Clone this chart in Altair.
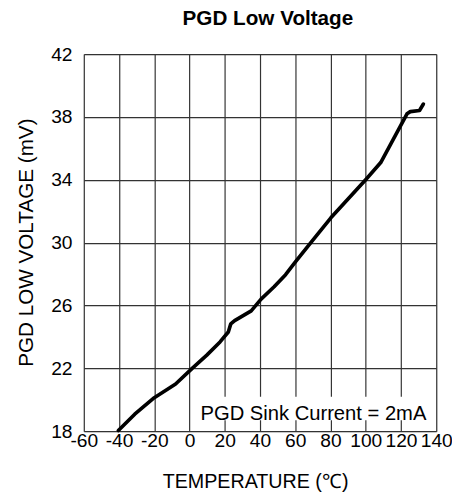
import altair as alt
import pandas as pd

# Curve (temperature in °C, voltage in mV)
temp = [-40.4, -31.1, -20.0, -7.9, 1.5, 9.8, 17.3, 22.0, 23.4, 25.6, 35.0, 40.6,
        48.0, 54.5, 60.3, 69.4, 80.2, 100.2, 108.5, 116.9, 123.4, 125.3, 130.5, 132.7]
volt = [18.04, 19.08, 20.13, 21.0, 22.0, 22.84, 23.68, 24.31, 24.83, 25.04, 25.66, 26.4,
        27.19, 27.96, 28.8, 30.08, 31.58, 34.04, 35.1, 36.84, 38.2, 38.34, 38.41, 38.82]

x_ticks = [-60, -40, -20, 0, 20, 40, 60, 80, 100, 120, 140]
y_ticks = [18, 22, 26, 30, 34, 38, 42]

note_text = ["PGD Sink Current = 2mA"]
note_x = [134.4]
note_y = [18.73]
box_x = [3.0]
box_x2 = [139.0]
box_y = [18.69]
box_y2 = [20.19]

FONT = "Liberation Sans"

df = pd.DataFrame({"T": temp, "V": volt})
note_df = pd.DataFrame({"label": note_text, "x": note_x, "y": note_y,
                        "bx": box_x, "bx2": box_x2, "by": box_y, "by2": box_y2})

xs = alt.Scale(domain=[-60, 140], nice=False, zero=False)
ys = alt.Scale(domain=[18, 42], nice=False, zero=False)

xaxis = alt.Axis(values=x_ticks, title="TEMPERATURE (℃)", grid=True, ticks=False, tickSize=0,
                 domain=False, labelPadding=1, labelFontSize=19.5, labelColor="#000",
                 labelFont=FONT, labelOverlap=False, labelFlush=False,
                 labelExpr="'' + datum.value",
                 titleFont=FONT, titleFontSize=20, titleFontWeight="normal", titleColor="#000",
                 titleY=57, titleX=174, titleBaseline="alphabetic", titleAlign="center",
                 gridColor="#333", gridWidth=1.2)
yaxis = alt.Axis(values=y_ticks, title="PGD LOW VOLTAGE (mV)", grid=True, ticks=False, tickSize=0,
                 domain=False, labelPadding=12, labelFontSize=19.5, labelColor="#000",
                 labelFont=FONT, labelOverlap=False, labelFlush=False,
                 titleFont=FONT, titleFontSize=21, titleFontWeight="normal", titleColor="#000",
                 titleAngle=-90, titleX=-52, titleY=191, titleBaseline="alphabetic",
                 titleAlign="center", gridColor="#333", gridWidth=1.2)

box = alt.Chart(note_df).mark_rect(fill="white").encode(
    x=alt.X("bx:Q", scale=xs, axis=xaxis),
    x2="bx2:Q",
    y=alt.Y("by:Q", scale=ys, axis=yaxis),
    y2="by2:Q",
)

line = alt.Chart(df).mark_line(color="black", strokeWidth=3.7, strokeJoin="round",
                               strokeCap="round").encode(
    x=alt.X("T:Q", scale=xs, axis=xaxis),
    y=alt.Y("V:Q", scale=ys, axis=yaxis),
)

note = alt.Chart(note_df).mark_text(align="right", baseline="alphabetic", font=FONT,
                                    fontSize=20.5, color="#000").encode(
    x=alt.X("x:Q", scale=xs, axis=xaxis),
    y=alt.Y("y:Q", scale=ys, axis=yaxis),
    text="label:N",
)

chart = alt.layer(box, line, note).properties(
    width=358,
    height=383,
    autosize=alt.AutoSizeParams(type="none"),
    padding={"left": 77, "top": 43, "right": 16, "bottom": 60},
    title=alt.TitleParams("PGD Low Voltage", font=FONT, fontSize=21, fontWeight="bold",
                          color="#000", anchor="middle", baseline="alphabetic",
                          frame="group", offset=2, dx=8, dy=3),
).configure_view(stroke="black", strokeWidth=3, fill="white").configure(background="white")

chart.save("out.html", embed_options={"renderer": "svg", "actions": False})
